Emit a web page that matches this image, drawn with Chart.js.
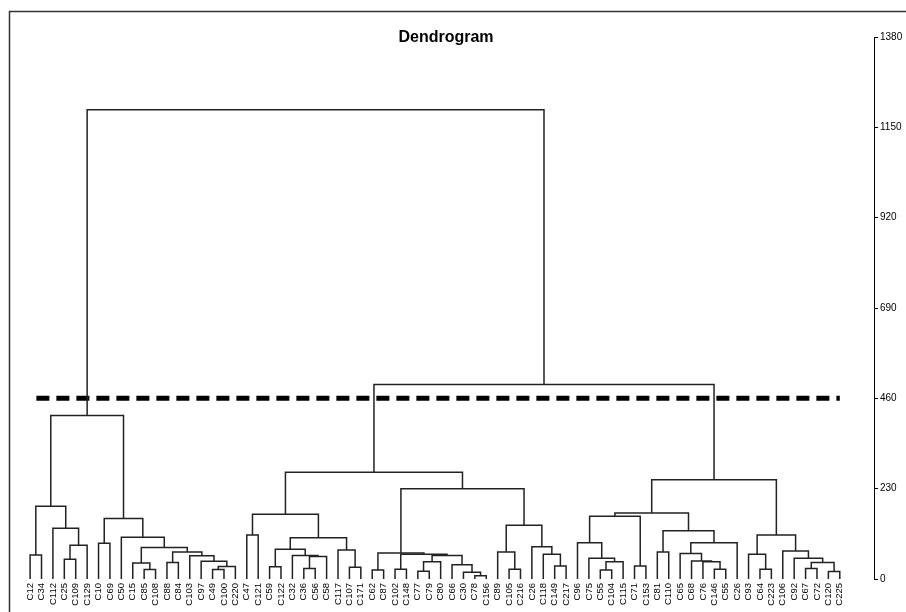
<!DOCTYPE html>
<html lang="en">
<head>
<meta charset="UTF-8"/>
<title>Dendrogram</title>
<script src="https://cdn.jsdelivr.net/npm/chart.js@4"></script>
<style>
  html, body { margin: 0; padding: 0; background: #fff; }
  canvas { display: block; }
</style>
</head>
<body>
<canvas id="dendro" width="906" height="612"></canvas>
<script>
// leaf order along the bottom
const leaves = [
  'C12', 'C34', 'C112', 'C25', 'C109', 'C129', 'C10', 'C69', 'C50', 'C15',
  'C85', 'C108', 'C88', 'C84', 'C103', 'C97', 'C49', 'C100', 'C220', 'C47',
  'C121', 'C59', 'C122', 'C32', 'C36', 'C56', 'C58', 'C117', 'C107', 'C171',
  'C62', 'C87', 'C102', 'C148', 'C77', 'C79', 'C80', 'C66', 'C30', 'C78',
  'C156', 'C89', 'C105', 'C216', 'C26', 'C118', 'C149', 'C217', 'C96', 'C75',
  'C55', 'C104', 'C115', 'C71', 'C153', 'C81', 'C110', 'C65', 'C68', 'C76',
  'C146', 'C55', 'C26', 'C93', 'C64', 'C223', 'C106', 'C92', 'C67', 'C72',
  'C120', 'C225'
];

// merges: [id, left, right, height]; numbers are leaf indexes, strings are earlier merges
const merges = [
  ['a1', 0, 1, 61], ['a2', 3, 4, 50], ['a3', 'a2', 5, 86], ['a4', 2, 'a3', 129],
  ['a5', 'a1', 'a4', 185], ['a6', 6, 7, 91], ['a7', 10, 11, 24], ['a8', 9, 'a7', 41],
  ['a9', 12, 13, 42], ['a10', 16, 17, 24], ['a11', 'a10', 18, 32], ['a12', 15, 'a11', 45],
  ['a13', 14, 'a12', 59], ['a14', 'a9', 'a13', 69], ['a15', 'a8', 'a14', 80],
  ['a16', 8, 'a15', 106], ['a17', 'a6', 'a16', 154], ['a18', 'a5', 'a17', 416],

  ['b1', 19, 20, 112], ['b2', 21, 22, 31], ['b3', 24, 25, 27], ['b4', 'b3', 26, 57],
  ['b5', 23, 'b4', 60], ['b6', 'b2', 'b5', 76], ['b7', 28, 29, 30], ['b8', 27, 'b7', 74],
  ['b9', 'b6', 'b8', 105], ['b10', 'b1', 'b9', 165], ['b11', 30, 31, 23], ['b12', 32, 33, 25],
  ['b13', 34, 35, 20], ['b14', 'b13', 36, 44], ['b15', 39, 40, 8], ['b16', 38, 'b15', 17],
  ['b17', 37, 'b16', 36], ['b18', 'b14', 'b17', 60], ['b19', 'b12', 'b18', 63],
  ['b20', 'b11', 'b19', 66], ['b21', 42, 43, 25], ['b22', 41, 'b21', 69], ['b23', 46, 47, 33],
  ['b24', 45, 'b23', 63], ['b25', 44, 'b24', 82], ['b26', 'b22', 'b25', 137],
  ['b27', 'b20', 'b26', 230], ['b28', 'b10', 'b27', 272],

  ['c1', 50, 51, 23], ['c2', 'c1', 52, 44], ['c3', 49, 'c2', 53], ['c4', 48, 'c3', 92],
  ['c5', 53, 54, 33], ['c6', 'c4', 'c5', 160], ['c7', 55, 56, 69], ['c8', 60, 61, 25],
  ['c9', 59, 'c8', 44], ['c10', 58, 'c9', 46], ['c11', 57, 'c10', 65], ['c12', 'c11', 62, 92],
  ['c13', 'c7', 'c12', 123], ['c14', 'c6', 'c13', 168], ['c15', 64, 65, 25], ['c16', 63, 'c15', 63],
  ['c17', 68, 69, 27], ['c18', 70, 71, 19], ['c19', 'c17', 'c18', 42], ['c20', 67, 'c19', 53],
  ['c21', 66, 'c20', 71], ['c22', 'c16', 'c21', 112], ['c23', 'c14', 'c22', 253],

  ['r2', 'b28', 'c23', 495],
  ['r1', 'a18', 'r2', 1195]
];

const yTicks = [0, 230, 460, 690, 920, 1150, 1380];
const cutHeight = 460;

// node positions: leaves sit at their index, a merge sits midway between its children
const nodes = {};
leaves.forEach((name, i) => { nodes[i] = { x: i, h: 0 }; });
merges.forEach(([id, a, b, h]) => {
  nodes[id] = { x: (nodes[a].x + nodes[b].x) / 2, h: h };
});

const datasets = merges.map(([id, a, b, h]) => ({
  data: [
    { x: nodes[a].x, y: nodes[a].h },
    { x: nodes[a].x, y: h },
    { x: nodes[b].x, y: h },
    { x: nodes[b].x, y: nodes[b].h }
  ],
  borderColor: '#222',
  borderWidth: 1.5,
  pointRadius: 0,
  tension: 0,
  fill: false
}));

// cut line
datasets.push({
  data: [{ x: 0.55, y: cutHeight }, { x: leaves.length - 1, y: cutHeight }],
  borderColor: '#000',
  borderWidth: 5,
  borderDash: [13, 7],
  pointRadius: 0,
  fill: false
});

const frame = {
  id: 'frame',
  beforeDraw(chart) {
    const c = chart.ctx;
    c.save();
    c.fillStyle = '#fff';
    c.fillRect(0, 0, chart.width, chart.height);
    c.strokeStyle = '#333';
    c.lineWidth = 1.5;
    c.beginPath();
    c.moveTo(9.5, chart.height);
    c.lineTo(9.5, 11.5);
    c.lineTo(chart.width, 11.5);
    c.stroke();
    c.fillStyle = '#000';
    c.font = 'bold 16px "Liberation Sans", Arial, sans-serif';
    c.textAlign = 'center';
    c.textBaseline = 'middle';
    c.fillText('Dendrogram', 446, 38);
    c.restore();
  }
};

new Chart(document.getElementById('dendro'), {
  type: 'line',
  data: { datasets },
  plugins: [frame],
  options: {
    responsive: false,
    animation: false,
    devicePixelRatio: 1,
    layout: { padding: { top: 37, left: 13, right: 0, bottom: 0 } },
    plugins: { legend: { display: false }, tooltip: { enabled: false }, title: { display: false } },
    scales: {
      x: {
        type: 'linear',
        position: 'bottom',
        min: -1.5,
        max: 74,
        afterBuildTicks: s => { s.ticks = leaves.map((_, i) => ({ value: i })); },
        afterFit: s => { s.height = 33; },
        grid: { display: false },
        border: { display: false },
        ticks: {
          autoSkip: false,
          minRotation: 90,
          maxRotation: 90,
          padding: -4,
          color: '#000',
          font: { size: 9.5, family: '"Liberation Sans", Arial, sans-serif' },
          callback: v => leaves[v]
        }
      },
      y: {
        position: 'right',
        min: 0,
        max: 1380,
        afterBuildTicks: s => { s.ticks = yTicks.map(v => ({ value: v })); },
        afterFit: s => { s.width = 32; },
        grid: { drawOnChartArea: false, drawTicks: true, tickLength: 4, color: '#000' },
        border: { display: true, color: '#000', width: 1 },
        ticks: {
          padding: 2,
          color: '#000',
          font: { size: 10, family: '"Liberation Sans", Arial, sans-serif' },
          callback: v => String(v)
        }
      }
    }
  }
});
</script>
</body>
</html>
